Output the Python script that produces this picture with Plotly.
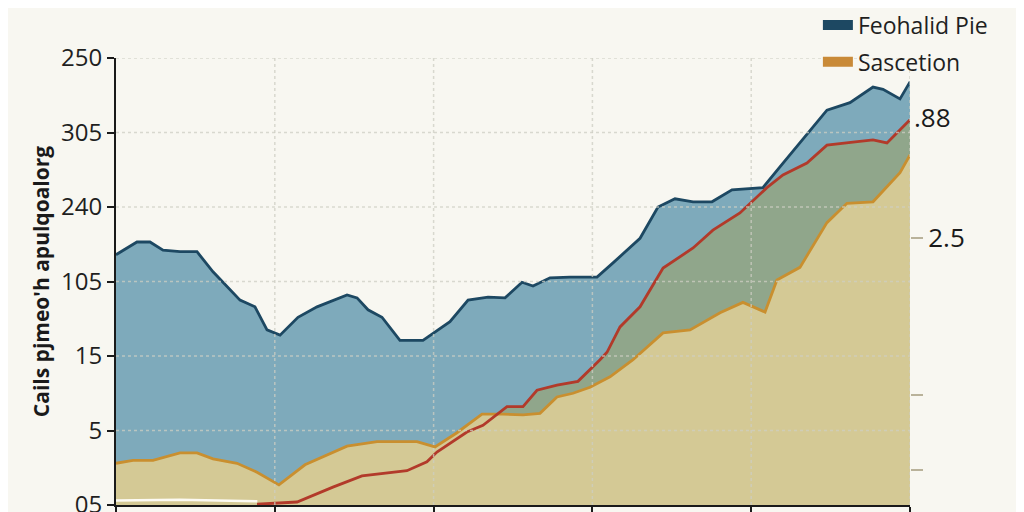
import plotly.graph_objects as go

# ---- data ----
blue_x = [0.0, 1.32, 2.14, 2.96, 4.03, 5.10, 6.11, 7.18, 7.81, 8.75, 9.51, 10.33, 11.46, 12.66,
          14.55, 15.18, 15.87, 16.75, 17.88, 19.33, 21.03, 22.17, 23.43, 24.50, 25.57, 26.26,
          27.33, 28.59, 30.29, 31.30, 33.00, 34.13, 35.20, 36.34, 37.53, 38.79, 40.74, 41.81,
          43.07, 44.77, 46.22, 47.67, 48.30, 49.37, 50.0]
blue_y = [3.36, 3.53, 3.53, 3.42, 3.40, 3.40, 3.13, 2.89, 2.75, 2.66, 2.35, 2.28, 2.52, 2.66,
          2.82, 2.78, 2.62, 2.52, 2.21, 2.21, 2.46, 2.75, 2.79, 2.78, 2.99, 2.94,
          3.05, 3.06, 3.06, 3.25, 3.58, 4.00, 4.11, 4.07, 4.07, 4.23, 4.26, 4.54,
          4.86, 5.30, 5.40, 5.61, 5.58, 5.45, 5.68]

tan_x = [0.0, 1.07, 2.33, 4.03, 5.10, 6.11, 7.62, 8.88, 10.26, 11.90, 14.55, 16.44, 18.95,
         20.09, 21.47, 23.05, 24.37, 25.63, 26.70, 27.77, 28.78, 29.85, 31.11, 32.56, 34.45,
         36.15, 38.04, 39.48, 40.87, 41.62, 43.07, 44.77, 46.03, 47.67, 49.37, 50.0]
tan_y = [0.56, 0.60, 0.60, 0.70, 0.70, 0.62, 0.56, 0.44, 0.27, 0.54, 0.79, 0.85, 0.85,
         0.78, 0.97, 1.22, 1.22, 1.21, 1.23, 1.45, 1.50, 1.58, 1.72, 1.95, 2.31,
         2.35, 2.58, 2.72, 2.59, 3.02, 3.19, 3.79, 4.05, 4.07, 4.46, 4.70]

red_x = [8.88, 11.40, 13.66, 15.49, 18.32, 19.58, 20.21, 21.22, 22.10, 23.11, 24.62, 25.63,
         26.51, 27.77, 29.09, 30.48, 30.92, 31.74, 33.00, 34.45, 36.34, 37.59, 39.29, 40.99,
         42.00, 43.51, 44.77, 46.41, 47.67, 48.55, 50.0]
red_y = [0.01, 0.04, 0.24, 0.39, 0.46, 0.58, 0.71, 0.85, 0.98, 1.07, 1.32, 1.32,
         1.54, 1.61, 1.66, 1.95, 2.05, 2.39, 2.66, 3.18, 3.45, 3.69, 3.92, 4.26,
         4.43, 4.59, 4.83, 4.87, 4.90, 4.86, 5.17]

base_x = [0.0, 4.0, 8.9]
base_y = [0.06, 0.07, 0.05]

y_tickvals = [0, 1, 2, 3, 4, 5, 6]
y_ticktext = ["05", "5", "15", "105", "240", "305", "250"]
x_tickvals = [0, 10, 20, 30, 40, 50]
right_tickvals = [3.58, 1.48, 0.47]
right_ticktext = ["2.5", "", ""]
right_label_val = 5.21
right_label_text = ".88"

series_names = ["Feohalid Pie", "Sascetion"]

BG = "#f8f7f1"
NAVY = "#1d4862"
BLUE_FILL = "#7eaabb"
TAN_FILL = "#d4c995"
TAN_LINE = "#c98f2f"
RED = "#b23a2a"
GREEN_FILL = "#90a68b"
GRID = "rgba(205,205,195,0.75)"
FONT = "Open Sans"

fig = go.Figure()

fig.add_trace(go.Scatter(x=blue_x, y=blue_y, mode="lines", fill="tozeroy",
                         fillcolor=BLUE_FILL, line=dict(color=NAVY, width=2.8),
                         showlegend=False, hoverinfo="skip"))
fig.add_trace(go.Scatter(x=red_x, y=red_y, mode="lines", fill="tozeroy",
                         fillcolor=GREEN_FILL, line=dict(color="rgba(0,0,0,0)", width=0),
                         showlegend=False, hoverinfo="skip"))
fig.add_trace(go.Scatter(x=tan_x, y=tan_y, mode="lines", fill="tozeroy",
                         fillcolor=TAN_FILL, line=dict(color=TAN_LINE, width=2.8),
                         showlegend=False, hoverinfo="skip"))
fig.add_trace(go.Scatter(x=red_x, y=red_y, mode="lines",
                         line=dict(color=RED, width=2.8),
                         showlegend=False, hoverinfo="skip"))
fig.add_trace(go.Scatter(x=base_x, y=base_y, mode="lines",
                         line=dict(color="#fdfbf3", width=2.5),
                         showlegend=False, hoverinfo="skip"))
# legend entries
fig.add_trace(go.Scatter(x=[None], y=[None], mode="lines", name=series_names[0],
                         legendgroup="a", line=dict(color=NAVY, width=12)))
fig.add_trace(go.Scatter(x=[None], y=[None], mode="lines", name=series_names[1],
                         legendgroup="b", line=dict(color="#c98a38", width=12)))
# invisible trace to activate right axis
fig.add_trace(go.Scatter(x=[None], y=[None], yaxis="y2", showlegend=False, hoverinfo="skip"))

# grid lines drawn above the fills
for xv in x_tickvals[1:]:
    fig.add_shape(type="line", xref="x", yref="paper", x0=xv, x1=xv, y0=0, y1=1,
                  line=dict(color=GRID, width=1.5, dash="dot"), layer="above")
for yv in y_tickvals[1:]:
    fig.add_shape(type="line", xref="paper", yref="y", x0=0, x1=1, y0=yv, y1=yv,
                  line=dict(color=GRID, width=1.5, dash="dot"), layer="above")

fig.add_annotation(xref="paper", yref="y", x=1.0, y=right_label_val, text=right_label_text,
                   showarrow=False, xanchor="left", xshift=2,
                   font=dict(size=26, color="#1a1a1a", family=FONT))

fig.update_layout(
    width=1016, height=504,
    margin=dict(l=108, r=114, t=50, b=7, autoexpand=False),
    paper_bgcolor=BG, plot_bgcolor=BG,
    font=dict(family=FONT, color="#222"),
    xaxis=dict(range=[0, 50], tickvals=x_tickvals, showticklabels=False, automargin=False,
               showgrid=False, zeroline=False, showline=True, linecolor="#1a1a1a",
               linewidth=2, ticks="outside", ticklen=12, tickcolor="#1a1a1a", tickwidth=2),
    yaxis=dict(range=[0, 6], tickvals=y_tickvals, ticktext=y_ticktext, automargin=False,
               ticklabeloverflow="allow",
               showgrid=False, zeroline=False, showline=True, linecolor="#1a1a1a",
               linewidth=2, ticks="outside", ticklen=7, tickcolor="#1a1a1a", tickwidth=2,
               tickfont=dict(size=24, color="#1f1f1f"),
               title=dict(text="<b>Cails pjmeo'h apulqoalorg</b>", standoff=6,
                          font=dict(size=21, color="#1a1a1a"))),
    yaxis2=dict(range=[0, 6], overlaying="y", side="right", tickvals=right_tickvals,
                ticktext=right_ticktext, showgrid=False, zeroline=False, showline=False,
                automargin=False, ticklabeloverflow="allow",
                ticks="outside", ticklen=12, tickcolor="#b9b29a", tickwidth=2,
                tickfont=dict(size=26, color="#1a1a1a")),
    legend=dict(x=0.884, y=1.122, xanchor="left", yanchor="top",
                bgcolor="rgba(0,0,0,0)", font=dict(size=23, color="#1f1f1f"),
                tracegroupgap=4, traceorder="grouped"),
    showlegend=True,
)

fig.write_html("out.html")
